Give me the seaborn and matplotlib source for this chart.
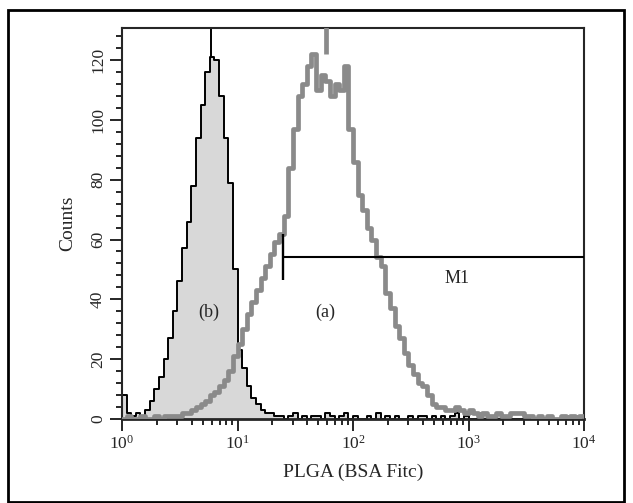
import numpy as np
import pandas as pd
import matplotlib
matplotlib.use('Agg')
import matplotlib.pyplot as plt
import matplotlib.ticker as mticker
from matplotlib.patches import Rectangle
import seaborn as sns

# Canales: 100 bins logaritmicos de 0.04 decadas entre 10^0 y 10^4
n_bins = 100
bin_decade = 0.04

# (b) control, contorno negro con relleno gris
counts_b = [8, 2, 1, 2, 1, 3, 6, 10, 14, 20,
            27, 36, 46, 57, 66, 78, 94, 105, 116, 121,
            120, 108, 94, 79, 50, 23, 17, 11, 7, 5,
            3, 2, 2, 1, 1, 0, 1, 2, 0, 1,
            0, 1, 1, 0, 2, 1, 0, 1, 2, 0,
            1, 0, 0, 1, 0, 2, 0, 1, 0, 1,
            0, 0, 1, 0, 1, 1, 0, 1, 0, 1,
            0, 1, 2, 0, 1, 0, 0, 0, 0, 0,
            0, 0, 0, 0, 0, 0, 0, 0, 0, 0,
            0, 0, 0, 0, 0, 0, 0, 0, 0, 0]

# (a) PLGA (BSA Fitc), linea gris gruesa
counts_a = [0, 1, 0, 0, 1, 0, 0, 1, 0, 1,
            1, 1, 1, 2, 2, 3, 4, 5, 6, 8,
            9, 11, 13, 16, 21, 25, 30, 35, 39, 43,
            47, 51, 55, 59, 62, 68, 84, 97, 108, 112,
            118, 122, 110, 115, 113, 108, 112, 110, 118, 97,
            86, 75, 70, 64, 60, 54, 51, 42, 37, 31,
            27, 22, 18, 15, 12, 11, 8, 5, 4, 4,
            3, 3, 4, 3, 2, 3, 2, 1, 2, 1,
            1, 2, 1, 1, 2, 2, 2, 1, 1, 0,
            1, 0, 1, 0, 0, 1, 0, 1, 0, 1]

# canales saturados (picos fuera de escala)
spike_b = 5.9
spike_a = 58

# marcador M1
m1_start = 25
m1_end = 1e4
m1_level = 54
m1_tick = (46.5, 62)

edges = 10 ** (np.arange(n_bins + 1) * bin_decade)
df_b = pd.DataFrame({'x': edges, 'y': counts_b + [counts_b[-1]]})
df_a = pd.DataFrame({'x': edges, 'y': counts_a + [counts_a[-1]]})

sns.set_style('ticks')
plt.rcParams['font.family'] = ['Liberation Serif', 'DejaVu Serif']
plt.rcParams['mathtext.fontset'] = 'custom'
plt.rcParams['mathtext.rm'] = 'Liberation Serif'
plt.rcParams['mathtext.it'] = 'Liberation Serif:italic'
plt.rcParams['mathtext.default'] = 'regular'

fig = plt.figure(figsize=(6.33, 5.03), dpi=100)
ax = fig.add_axes([122 / 633, 84 / 503, 462 / 633, 391 / 503])

gris_a = '#8a8a8a'
ax.fill_between(df_b['x'], df_b['y'], step='post', color='#d8d8d8', lw=0, zorder=1)
sns.lineplot(data=df_b, x='x', y='y', ax=ax, color='black', lw=1.4,
             drawstyle='steps-post', estimator=None, zorder=2)
ax.vlines(spike_b, max(counts_b), 140, color='black', lw=1.4, zorder=2)
sns.lineplot(data=df_a, x='x', y='y', ax=ax, color=gris_a, lw=3.4,
             drawstyle='steps-post', estimator=None, zorder=3)
ax.vlines(spike_a, max(counts_a), 140, color=gris_a, lw=3.4, zorder=3)

# M1
ax.hlines(m1_level, m1_start, m1_end, color='black', lw=1.5, zorder=4)
ax.vlines(m1_start, m1_tick[0], m1_tick[1], color='black', lw=1.7, zorder=4)
ax.text(795, 46.8, 'M1', fontsize=13, ha='center', va='center')
ax.text(5.6, 35.5, '(b)', fontsize=13, ha='center', va='center')
ax.text(58, 35.5, '(a)', fontsize=13, ha='center', va='center')

ax.set_xscale('log')
ax.set_xlim(1, 1e4)
ax.set_ylim(0, 130.7)
ax.xaxis.set_major_locator(mticker.LogLocator(base=10, numticks=10))
ax.xaxis.set_minor_locator(mticker.LogLocator(base=10, subs=np.arange(2, 10), numticks=20))
ax.xaxis.set_minor_formatter(mticker.NullFormatter())
ax.yaxis.set_major_locator(mticker.MultipleLocator(20))
ax.yaxis.set_minor_locator(mticker.MultipleLocator(4))

ax.tick_params(which='major', length=8.5, width=1.4, direction='out', labelsize=12.5, pad=3)
ax.tick_params(which='minor', length=4.5, width=1.4, direction='out')
ax.tick_params(axis='y', labelrotation=90)
for lab in ax.get_yticklabels():
    lab.set_va('center')

for s in ax.spines.values():
    s.set_linewidth(1.5)
ax.spines['bottom'].set_linewidth(2)

ax.set_xlabel('PLGA (BSA Fitc)', fontsize=14, labelpad=8)
ax.set_ylabel('Counts', fontsize=14, labelpad=10)

fig.add_artist(Rectangle((8 / 633, 1 / 503), 616 / 633, 492 / 503,
                         transform=fig.transFigure, fill=False, lw=2, color='black'))

plt.savefig('out.png', dpi=100)
